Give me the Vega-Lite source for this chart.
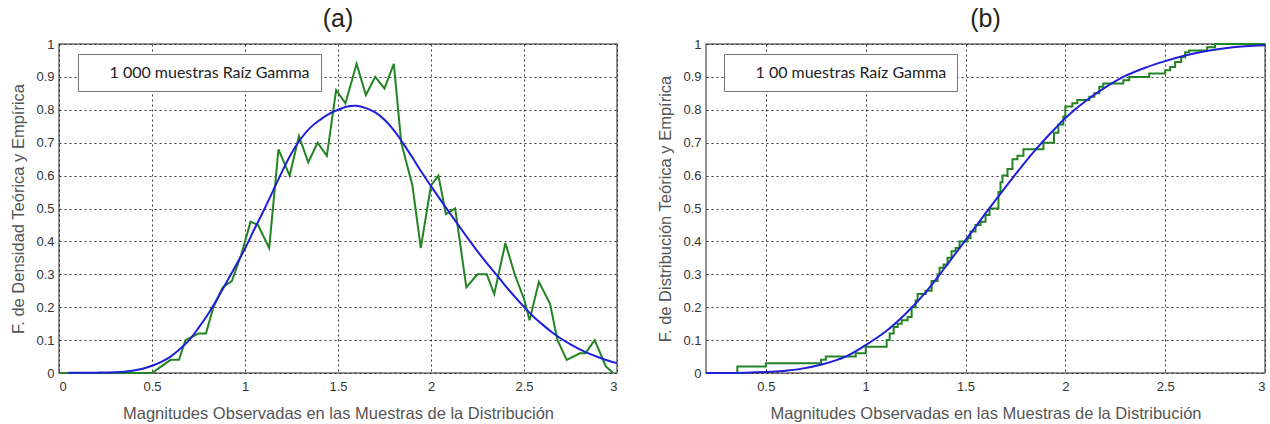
{
  "$schema": "https://vega.github.io/schema/vega-lite/v6.json",
  "background": "white",
  "padding": {"left": 10, "top": 6, "right": 0, "bottom": 3},
  "spacing": 89,
  "bounds": "flush",
  "config": {
    "font": "Liberation Sans",
    "view": {"stroke": "#6e6e6e", "strokeWidth": 1.5},
    "axis": {
      "grid": true, "gridColor": "#222222", "gridDash": [2, 3], "gridWidth": 1, "gridOpacity": 0.9,
      "domain": false, "ticks": false,
      "labelFont": "Liberation Sans", "labelFontSize": 13, "labelColor": "#333333", "labelPadding": 5,
      "titleFont": "Liberation Sans", "titleFontSize": 16.5, "titleColor": "#555555", "titleFontWeight": "normal"
    },
    "axisX": {"titlePadding": 12, "labelPadding": 7},
    "axisY": {"titlePadding": 9},
    "title": {"fontSize": 25, "fontWeight": "normal", "color": "#222222", "font": "Liberation Sans", "offset": 6},
    "legend": {
      "orient": "none", "legendY": 10, "title": null,
      "symbolOpacity": 0, "symbolSize": 0, "symbolStrokeWidth": 0,
      "labelFont": "Lato", "labelFontSize": 16, "labelColor": "#222222", "labelLimit": 400,
      "padding": 10.5, "strokeColor": "#777777", "fillColor": "white", "labelOffset": 5, "symbolOffset": 0
    }
  },
  "resolve": {"scale": {"color": "independent"}},
  "datasets": {
    "teoricaA": [
      {"x": 0.05, "y": 0.001}, {"x": 0.2, "y": 0.001}, {"x": 0.35, "y": 0.004}, {"x": 0.45, "y": 0.013},
      {"x": 0.5, "y": 0.022}, {"x": 0.55, "y": 0.034}, {"x": 0.6, "y": 0.05}, {"x": 0.65, "y": 0.073},
      {"x": 0.7, "y": 0.1}, {"x": 0.75, "y": 0.137}, {"x": 0.8, "y": 0.178}, {"x": 0.85, "y": 0.225},
      {"x": 0.9, "y": 0.275}, {"x": 0.95, "y": 0.326}, {"x": 1.0, "y": 0.378}, {"x": 1.05, "y": 0.437},
      {"x": 1.1, "y": 0.493}, {"x": 1.15, "y": 0.553}, {"x": 1.2, "y": 0.613}, {"x": 1.25, "y": 0.668},
      {"x": 1.3, "y": 0.712}, {"x": 1.35, "y": 0.745}, {"x": 1.4, "y": 0.768}, {"x": 1.45, "y": 0.787},
      {"x": 1.5, "y": 0.8}, {"x": 1.55, "y": 0.81}, {"x": 1.6, "y": 0.812}, {"x": 1.65, "y": 0.805},
      {"x": 1.7, "y": 0.792}, {"x": 1.75, "y": 0.77}, {"x": 1.8, "y": 0.738}, {"x": 1.85, "y": 0.698},
      {"x": 1.9, "y": 0.655}, {"x": 1.95, "y": 0.61}, {"x": 2.0, "y": 0.568}, {"x": 2.05, "y": 0.527},
      {"x": 2.1, "y": 0.487}, {"x": 2.15, "y": 0.447}, {"x": 2.2, "y": 0.408}, {"x": 2.25, "y": 0.37},
      {"x": 2.3, "y": 0.334}, {"x": 2.35, "y": 0.3}, {"x": 2.4, "y": 0.265}, {"x": 2.45, "y": 0.232},
      {"x": 2.5, "y": 0.201}, {"x": 2.55, "y": 0.172}, {"x": 2.6, "y": 0.147}, {"x": 2.65, "y": 0.124},
      {"x": 2.7, "y": 0.104}, {"x": 2.75, "y": 0.087}, {"x": 2.8, "y": 0.072}, {"x": 2.85, "y": 0.059},
      {"x": 2.9, "y": 0.048}, {"x": 2.95, "y": 0.038}, {"x": 3.0, "y": 0.03}
    ],
    "empiricaA": [
      {"x": 0.0, "y": 0.0}, {"x": 0.5, "y": 0.0}, {"x": 0.55, "y": 0.02}, {"x": 0.6, "y": 0.04},
      {"x": 0.645, "y": 0.04}, {"x": 0.68, "y": 0.1}, {"x": 0.75, "y": 0.12}, {"x": 0.79, "y": 0.12},
      {"x": 0.83, "y": 0.2}, {"x": 0.88, "y": 0.26}, {"x": 0.93, "y": 0.28}, {"x": 0.98, "y": 0.36},
      {"x": 1.03, "y": 0.46}, {"x": 1.07, "y": 0.45}, {"x": 1.13, "y": 0.38}, {"x": 1.18, "y": 0.68},
      {"x": 1.24, "y": 0.6}, {"x": 1.29, "y": 0.72}, {"x": 1.34, "y": 0.64}, {"x": 1.39, "y": 0.7},
      {"x": 1.44, "y": 0.66}, {"x": 1.49, "y": 0.86}, {"x": 1.54, "y": 0.82}, {"x": 1.6, "y": 0.94},
      {"x": 1.65, "y": 0.845}, {"x": 1.7, "y": 0.9}, {"x": 1.75, "y": 0.865}, {"x": 1.8, "y": 0.94},
      {"x": 1.84, "y": 0.7}, {"x": 1.9, "y": 0.57}, {"x": 1.945, "y": 0.38}, {"x": 2.0, "y": 0.57},
      {"x": 2.04, "y": 0.6}, {"x": 2.08, "y": 0.483}, {"x": 2.13, "y": 0.5}, {"x": 2.19, "y": 0.26},
      {"x": 2.25, "y": 0.3}, {"x": 2.3, "y": 0.3}, {"x": 2.34, "y": 0.24}, {"x": 2.4, "y": 0.395},
      {"x": 2.45, "y": 0.3}, {"x": 2.5, "y": 0.225}, {"x": 2.53, "y": 0.16}, {"x": 2.58, "y": 0.277},
      {"x": 2.64, "y": 0.21}, {"x": 2.68, "y": 0.1}, {"x": 2.73, "y": 0.04}, {"x": 2.8, "y": 0.06},
      {"x": 2.83, "y": 0.06}, {"x": 2.88, "y": 0.1}, {"x": 2.94, "y": 0.02}, {"x": 2.98, "y": 0.0}
    ],
    "teoricaB": [
      {"x": 0.2, "y": 0.0}, {"x": 0.4, "y": 0.001}, {"x": 0.5, "y": 0.003}, {"x": 0.6, "y": 0.007},
      {"x": 0.66, "y": 0.011}, {"x": 0.78, "y": 0.026}, {"x": 0.9, "y": 0.05}, {"x": 1.0, "y": 0.085},
      {"x": 1.1, "y": 0.126}, {"x": 1.2, "y": 0.18}, {"x": 1.3, "y": 0.245}, {"x": 1.4, "y": 0.323},
      {"x": 1.5, "y": 0.404}, {"x": 1.6, "y": 0.485}, {"x": 1.7, "y": 0.565}, {"x": 1.75, "y": 0.604},
      {"x": 1.8, "y": 0.642}, {"x": 1.85, "y": 0.678}, {"x": 1.9, "y": 0.712}, {"x": 1.95, "y": 0.744},
      {"x": 2.0, "y": 0.775}, {"x": 2.1, "y": 0.826}, {"x": 2.2, "y": 0.868}, {"x": 2.3, "y": 0.903},
      {"x": 2.4, "y": 0.928}, {"x": 2.5, "y": 0.948}, {"x": 2.6, "y": 0.965}, {"x": 2.7, "y": 0.978},
      {"x": 2.8, "y": 0.987}, {"x": 2.9, "y": 0.993}, {"x": 3.0, "y": 0.996}
    ],
    "empiricaB": [
      {"x": 0.2, "y": 0.0}, {"x": 0.357, "y": 0.02}, {"x": 0.5, "y": 0.03}, {"x": 0.776, "y": 0.04},
      {"x": 0.8, "y": 0.05}, {"x": 0.95, "y": 0.06}, {"x": 1.0, "y": 0.08}, {"x": 1.105, "y": 0.1},
      {"x": 1.12, "y": 0.12}, {"x": 1.14, "y": 0.14}, {"x": 1.16, "y": 0.15}, {"x": 1.18, "y": 0.16},
      {"x": 1.21, "y": 0.17}, {"x": 1.23, "y": 0.2}, {"x": 1.25, "y": 0.22}, {"x": 1.26, "y": 0.24},
      {"x": 1.3, "y": 0.25}, {"x": 1.33, "y": 0.28}, {"x": 1.36, "y": 0.3}, {"x": 1.37, "y": 0.32},
      {"x": 1.39, "y": 0.33}, {"x": 1.41, "y": 0.35}, {"x": 1.43, "y": 0.37}, {"x": 1.45, "y": 0.38},
      {"x": 1.47, "y": 0.4}, {"x": 1.51, "y": 0.41}, {"x": 1.525, "y": 0.43}, {"x": 1.55, "y": 0.45},
      {"x": 1.575, "y": 0.46}, {"x": 1.6, "y": 0.48}, {"x": 1.62, "y": 0.5}, {"x": 1.665, "y": 0.55},
      {"x": 1.675, "y": 0.58}, {"x": 1.685, "y": 0.6}, {"x": 1.71, "y": 0.62}, {"x": 1.735, "y": 0.65},
      {"x": 1.76, "y": 0.66}, {"x": 1.79, "y": 0.68}, {"x": 1.89, "y": 0.7}, {"x": 1.943, "y": 0.73},
      {"x": 1.965, "y": 0.755}, {"x": 1.99, "y": 0.78}, {"x": 2.0, "y": 0.81}, {"x": 2.035, "y": 0.82},
      {"x": 2.06, "y": 0.83}, {"x": 2.12, "y": 0.84}, {"x": 2.145, "y": 0.85}, {"x": 2.17, "y": 0.87},
      {"x": 2.19, "y": 0.88}, {"x": 2.29, "y": 0.89}, {"x": 2.32, "y": 0.9}, {"x": 2.42, "y": 0.91},
      {"x": 2.5, "y": 0.92}, {"x": 2.525, "y": 0.93}, {"x": 2.55, "y": 0.945}, {"x": 2.58, "y": 0.96},
      {"x": 2.6, "y": 0.975}, {"x": 2.62, "y": 0.98}, {"x": 2.71, "y": 0.99}, {"x": 2.75, "y": 1.0},
      {"x": 3.0, "y": 1.0}
    ]
  },
  "hconcat": [
    {
      "width": 558, "height": 329,
      "title": "(a)",
      "encoding": {
        "x": {"field": "x", "type": "quantitative", "scale": {"domain": [0, 3], "nice": false},
              "axis": {"values": [0, 0.5, 1, 1.5, 2, 2.5, 3], "format": "~g", "title": "Magnitudes Observadas en las Muestras de la Distribución"}},
        "y": {"field": "y", "type": "quantitative", "scale": {"domain": [0, 1], "nice": false},
              "axis": {"values": [0, 0.1, 0.2, 0.3, 0.4, 0.5, 0.6, 0.7, 0.8, 0.9, 1], "format": "~g", "labelOverlap": false, "title": "F. de Densidad Teórica y Empírica"}}
      },
      "layer": [
        {
          "data": {"name": "empiricaA"},
          "mark": {"type": "line", "strokeWidth": 2},
          "encoding": {
            "color": {"datum": "1 000 muestras Raíz Gamma", "scale": {"range": ["#228422"]},
                      "legend": {"legendX": 19}}
          }
        },
        {
          "data": {"name": "teoricaA"},
          "mark": {"type": "line", "strokeWidth": 2, "color": "#1f1fd8", "interpolate": "catmull-rom"},
          "encoding": {}
        }
      ]
    },
    {
      "width": 559, "height": 329,
      "title": "(b)",
      "encoding": {
        "x": {"field": "x", "type": "quantitative", "scale": {"domain": [0.2, 3], "nice": false, "zero": false},
              "axis": {"values": [0.5, 1, 1.5, 2, 2.5, 3], "format": "~g", "title": "Magnitudes Observadas en las Muestras de la Distribución"}},
        "y": {"field": "y", "type": "quantitative", "scale": {"domain": [0, 1], "nice": false},
              "axis": {"values": [0, 0.1, 0.2, 0.3, 0.4, 0.5, 0.6, 0.7, 0.8, 0.9, 1], "format": "~g", "labelOverlap": false, "title": "F. de Distribución Teórica y Empírica"}}
      },
      "layer": [
        {
          "data": {"name": "empiricaB"},
          "mark": {"type": "line", "strokeWidth": 2, "interpolate": "step-after"},
          "encoding": {
            "color": {"datum": "1 00 muestras Raíz Gamma", "scale": {"range": ["#228422"]},
                      "legend": {"legendX": 18}}
          }
        },
        {
          "data": {"name": "teoricaB"},
          "mark": {"type": "line", "strokeWidth": 2, "color": "#1f1fd8", "interpolate": "catmull-rom"},
          "encoding": {}
        }
      ]
    }
  ]
}
